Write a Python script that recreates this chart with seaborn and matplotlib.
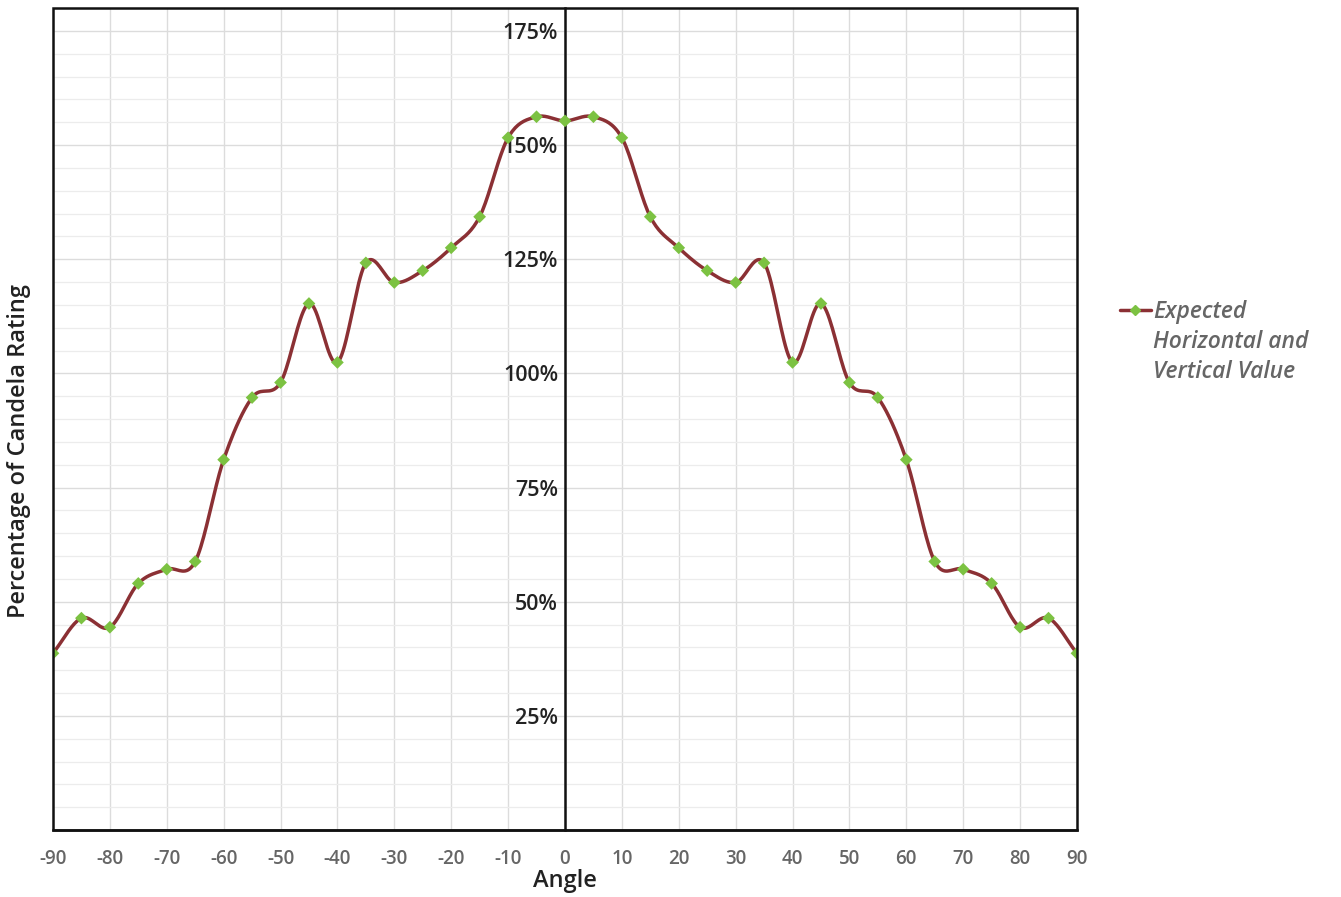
"""
Candela rating vs. angle - expected horizontal and vertical value
"""

import matplotlib
matplotlib.use("Agg")
import matplotlib.pyplot as plt
from matplotlib.lines import Line2D
from matplotlib.patches import Rectangle
from matplotlib.ticker import MultipleLocator, FixedLocator, FuncFormatter
import numpy as np
import pandas as pd
import seaborn as sns

# Data (symmetric around 0)
ANGLES = [-90, -85, -80, -75, -70, -65, -60, -55, -50, -45, -40, -35, -30,
          -25, -20, -15, -10, -5, 0, 5, 10, 15, 20, 25, 30, 35, 40, 45, 50,
          55, 60, 65, 70, 75, 80, 85, 90]
PERCENT = [38.7, 46.4, 44.4, 54.0, 57.1, 58.8, 81.1, 94.7, 98.0, 115.3, 102.4,
           124.2, 119.9, 122.5, 127.5, 134.3, 151.6, 156.2, 155.3, 156.2, 151.6,
           134.3, 127.5, 122.5, 119.9, 124.2, 102.4, 115.3, 98.0, 94.7, 81.1,
           58.8, 57.1, 54.0, 44.4, 46.4, 38.7]
Y_TICKS = [25, 50, 75, 100, 125, 150, 175]
X_TICKS = list(range(-90, 91, 10))
LEGEND_FIRST = "Expected"
LEGEND_REST = "Horizontal and\nVertical Value"

LINE_COLOR = "#8b3034"
MARKER_COLOR = "#7cc242"


def catmull_rom(x, y, steps=20):
    """Smooth curve through the points (rendering only, like the original chart)."""
    x = np.asarray(x, float)
    y = np.asarray(y, float)
    px = np.concatenate([[2 * x[0] - x[1]], x, [2 * x[-1] - x[-2]]])
    py = np.concatenate([[2 * y[0] - y[1]], y, [2 * y[-1] - y[-2]]])
    xs, ys = [], []
    t = np.linspace(0, 1, steps, endpoint=False)
    for i in range(1, len(px) - 2):
        for p, out in ((px, xs), (py, ys)):
            p0, p1, p2, p3 = p[i - 1], p[i], p[i + 1], p[i + 2]
            out.extend(0.5 * (2 * p1 + (-p0 + p2) * t
                              + (2 * p0 - 5 * p1 + 4 * p2 - p3) * t ** 2
                              + (-p0 + 3 * p1 - 3 * p2 + p3) * t ** 3))
    xs.append(x[-1])
    ys.append(y[-1])
    return np.array(xs), np.array(ys)


def main():
    sns.set_theme(style="white")
    plt.rcParams["font.family"] = ["Open Sans", "DejaVu Sans"]
    plt.rcParams["axes.unicode_minus"] = False

    df = pd.DataFrame({"angle": ANGLES, "pct": PERCENT})
    sx, sy = catmull_rom(df["angle"], df["pct"])
    smooth = pd.DataFrame({"angle": sx, "pct": sy})

    fig = plt.figure(figsize=(13.41, 8.97), dpi=100)
    ax = fig.add_axes([0.0395, 0.0747, 0.7636, 0.9163])

    # smooth line + diamond markers
    sns.lineplot(data=smooth, x="angle", y="pct", ax=ax, color=LINE_COLOR,
                 lw=2.5, sort=False, estimator=None, zorder=3)
    sns.scatterplot(data=df, x="angle", y="pct", ax=ax, marker="D", s=42,
                    color=MARKER_COLOR, edgecolor="none", zorder=4)

    ax.set_xlim(-90, 90)
    ax.set_ylim(0, 180)

    # grid
    ax.xaxis.set_major_locator(FixedLocator(X_TICKS))
    ax.yaxis.set_major_locator(FixedLocator(Y_TICKS))
    ax.yaxis.set_minor_locator(MultipleLocator(5))
    ax.grid(which="major", axis="both", color="#dcdcdc", lw=1.0, zorder=0)
    ax.grid(which="minor", axis="y", color="#ececec", lw=0.9, zorder=0)
    ax.set_axisbelow(True)

    # y axis sits at angle 0
    ax.spines["left"].set_position(("data", 0))
    for s in ("left", "bottom"):
        ax.spines[s].set_color("#111111")
        ax.spines[s].set_linewidth(1.8)
    ax.spines["top"].set_visible(False)
    ax.spines["right"].set_visible(False)
    ax.add_patch(Rectangle((0, 0), 1, 1, transform=ax.transAxes, fill=False,
                           edgecolor="#111111", lw=1.8, zorder=5, clip_on=False))

    ax.yaxis.set_major_formatter(FuncFormatter(lambda v, _: f"{v:.0f}%"))
    ax.tick_params(axis="y", which="both", length=0, pad=5,
                   labelsize=15.5, labelcolor="#222222")
    ax.tick_params(axis="x", length=0, pad=14, labelsize=13.5,
                   labelcolor="#666666")
    for lbl in ax.get_yticklabels():
        lbl.set_fontweight("semibold")
        lbl.set_zorder(6)
    for lbl in ax.get_xticklabels():
        lbl.set_fontweight("semibold")

    ax.set_xlabel("Angle", fontsize=17, fontweight="semibold",
                  color="#222222", labelpad=0)
    ax.set_ylabel("")
    fig.text(0.0145, 0.497, "Percentage of Candela Rating", rotation=90,
             ha="center", va="center", fontsize=17, fontweight="semibold",
             color="#222222")

    # legend: handle next to the first line, remaining lines below
    lprop = {"size": 16.5, "style": "italic", "weight": "semibold"}
    handle = Line2D([], [], color=LINE_COLOR, lw=2.5, marker="D",
                    markersize=5, markerfacecolor=MARKER_COLOR,
                    markeredgecolor=MARKER_COLOR)
    leg = fig.legend([handle], [LEGEND_FIRST], loc="upper left",
                     bbox_to_anchor=(0.835, 0.666), frameon=False,
                     handlelength=1.35, handletextpad=0.1,
                     borderpad=0, borderaxespad=0, prop=lprop)
    leg.get_texts()[0].set_color("#666666")
    fig.canvas.draw()
    bb = leg.get_texts()[0].get_window_extent()
    W, H = fig.canvas.get_width_height()
    fig.text(bb.x0 / W, (bb.y0 - 6) / H, LEGEND_REST, ha="left", va="top",
             color="#666666", linespacing=1.35, **{"fontsize": lprop["size"],
                                                   "fontstyle": "italic",
                                                   "fontweight": "semibold"})

    fig.savefig("out.png", dpi=100)
    plt.close(fig)


if __name__ == "__main__":
    main()
